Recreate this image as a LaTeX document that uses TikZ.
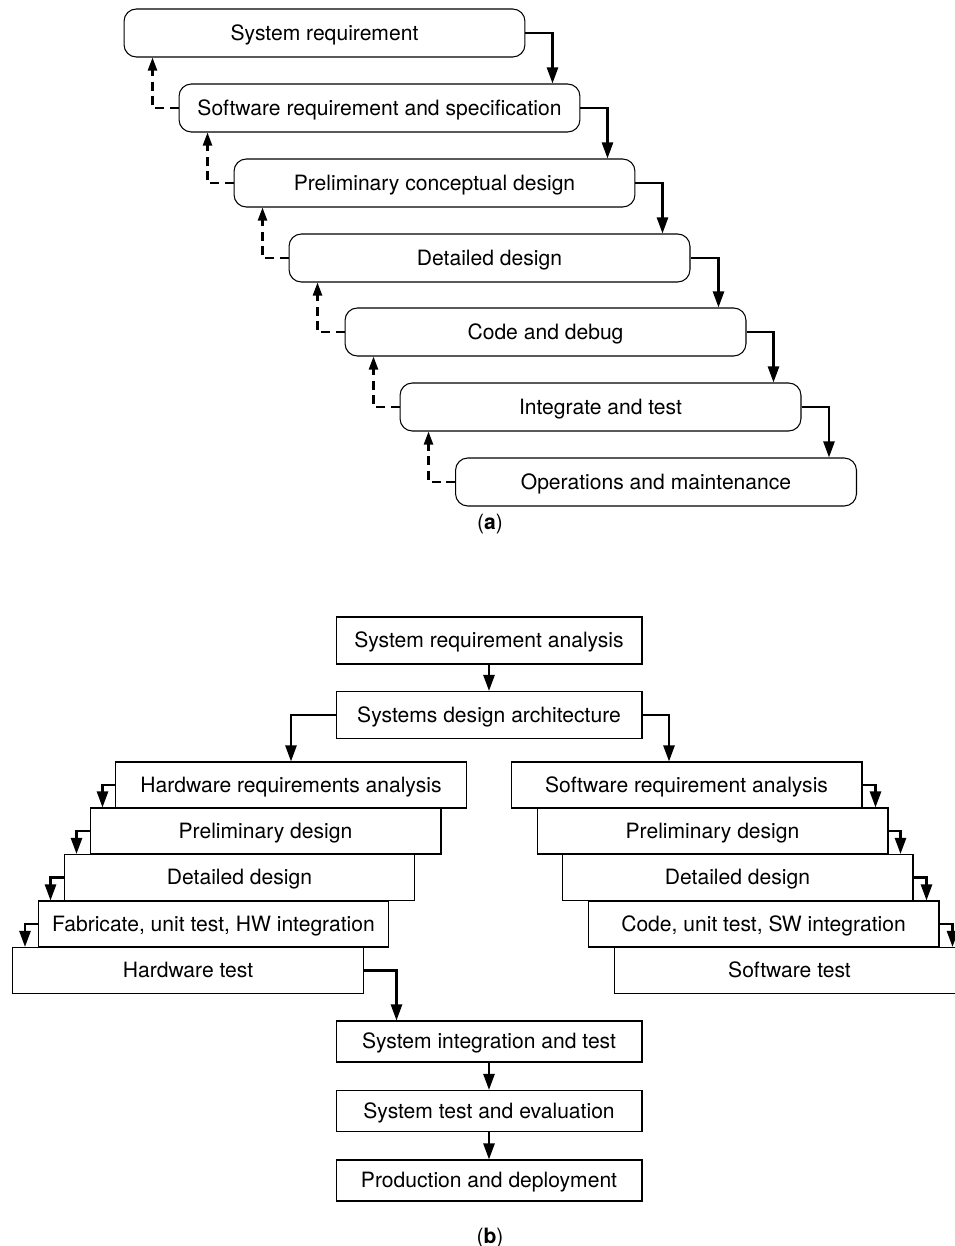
\documentclass[tikz,border=0pt]{standalone}
\usepackage{fontspec}
\setmainfont{TeX Gyre Heros}
\usetikzlibrary{arrows.meta}

\begin{document}
\begin{tikzpicture}[x=0.02cm,y=-0.02cm,
phase/.style={draw,line width=0.6pt,rounded corners=7pt,minimum width=8.02cm,minimum height=0.96cm,inner sep=2pt},
stage/.style={draw,line width=0.6pt,minimum width=7.02cm,minimum height=0.92cm,inner sep=2pt},
sysbox/.style={draw,line width=0.6pt,minimum width=6.12cm,minimum height=0.94cm,inner sep=2pt},
flow/.style={-{Triangle[length=3.2mm,width=2.2mm]},line width=1.4pt},
back/.style={-{Triangle[length=2.6mm,width=1.8mm]},line width=1.3pt,dash pattern=on 1.8mm off 1.1mm},
every node/.style={font=\fontsize{12}{14}\selectfont,text height=9pt,text depth=1pt}]
\useasboundingbox (0,0) rectangle (955,1246);
% (a) waterfall
\node[phase] (sysreq) at (324.5,33) {System requirement};
\node[phase] (swreq) at (379.5,108) {Software requirement and specification};
\node[phase] (prelim) at (434.5,183) {Preliminary conceptual design};
\node[phase] (detail) at (489.5,258) {Detailed design};
\node[phase] (code) at (545.5,332) {Code and debug};
\node[phase] (integ) at (600.5,407) {Integrate and test};
\node[phase] (oper) at (656,482) {Operations and maintenance};
\node (capa) at (490,522) {(\textbf{a})};
\draw[flow] (sysreq.east) -| ([xshift=-0.56cm]swreq.north east);
\draw[flow] (swreq.east) -| ([xshift=-0.56cm]prelim.north east);
\draw[flow] (prelim.east) -| ([xshift=-0.56cm]detail.north east);
\draw[flow] (detail.east) -| ([xshift=-0.56cm]code.north east);
\draw[flow] (code.east) -| ([xshift=-0.56cm]integ.north east);
\draw[flow] (integ.east) -| ([xshift=-0.56cm]oper.north east);
\draw[back] (swreq.west) -| ([xshift=0.58cm]sysreq.south west);
\draw[back] (prelim.west) -| ([xshift=0.58cm]swreq.south west);
\draw[back] (detail.west) -| ([xshift=0.58cm]prelim.south west);
\draw[back] (code.west) -| ([xshift=0.58cm]detail.south west);
\draw[back] (integ.west) -| ([xshift=0.58cm]code.south west);
\draw[back] (oper.west) -| ([xshift=0.58cm]integ.south west);
% (b) hardware and software branches
\node[sysbox] (sra) at (489,640.5) {System requirement analysis};
\node[sysbox] (sda) at (489,715) {Systems design architecture};
\node[stage] (hwra) at (291,785) {Hardware requirements analysis};
\node[stage] (hwpd) at (265.5,831) {Preliminary design};
\node[stage] (hwdd) at (239.5,877.5) {Detailed design};
\node[stage] (hwfab) at (213.5,924) {Fabricate, unit test, HW integration};
\node[stage] (hwtest) at (188,970.5) {Hardware test};
\node[stage] (swra) at (686.5,785) {Software requirement analysis};
\node[stage] (swpd) at (712.5,831) {Preliminary design};
\node[stage] (swdd) at (737.5,877.5) {Detailed design};
\node[stage] (swcode) at (763.5,924) {Code, unit test, SW integration};
\node[stage] (swtest) at (789.5,970.5) {Software test};
\node[sysbox,minimum height=0.82cm] (sit) at (489,1041.5) {System integration and test};
\node[sysbox,minimum height=0.82cm] (ste) at (489,1111) {System test and evaluation};
\node[sysbox,minimum height=0.82cm] (prod) at (489,1180.5) {Production and deployment};
\node (capb) at (490,1236) {(\textbf{b})};
\draw[flow] (sra) -- (sda);
\draw[flow] (sda.west) -| (hwra.north);
\draw[flow] (sda.east) -| ([xshift=-0.35cm]swra.north);
\draw[flow] (hwra.west) -| ([xshift=0.26cm]hwpd.north west);
\draw[flow] (hwpd.west) -| ([xshift=0.26cm]hwdd.north west);
\draw[flow] (hwdd.west) -| ([xshift=0.26cm]hwfab.north west);
\draw[flow] (hwfab.west) -| ([xshift=0.26cm]hwtest.north west);
\draw[flow] (swra.east) -| ([xshift=-0.26cm]swpd.north east);
\draw[flow] (swpd.east) -| ([xshift=-0.26cm]swdd.north east);
\draw[flow] (swdd.east) -| ([xshift=-0.26cm]swcode.north east);
\draw[flow] (swcode.east) -| ([xshift=-0.26cm]swtest.north east);
\draw[flow] (hwtest.east) -| ([xshift=1.22cm]sit.north west);
\draw[flow] (sit) -- (ste);
\draw[flow] (ste) -- (prod);
\end{tikzpicture}
\end{document}
